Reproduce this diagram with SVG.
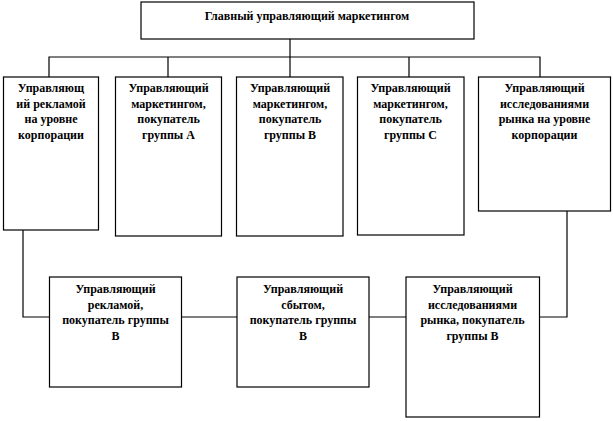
<svg xmlns="http://www.w3.org/2000/svg" width="613" height="421" viewBox="0 0 613 421">
<style>
.box{fill:#fff;stroke:#000;stroke-width:1.2}
.ln{fill:none;stroke:#000;stroke-width:1.2}
text{font-family:'Liberation Serif','DejaVu Serif','Times New Roman',serif;font-weight:700;font-size:12px;fill:#000;text-anchor:middle}
</style>
<rect width="613" height="421" fill="#fff"/>
<g id="connectors">
<path class="ln" d="M290,39 V57 M49,77 V57 H540 V77 M168,57 V77 M290,57 V77 M409,57 V77"/>
<path class="ln" d="M23,230 V317 H49.5 M181,317 H237 M369,317 H406 M539,317 H567 V211"/>
</g>
<g id="n0"><rect class="box" x="141" y="2" width="333" height="37"/>
<text x="307" y="20">Главный управляющий маркетингом</text></g>
<g id="n1"><rect class="box" x="3.5" y="77" width="95" height="153"/>
<text x="51" y="92">Управляющ</text><text x="51" y="108">ий рекламой</text><text x="51" y="123">на уровне</text><text x="51" y="139">корпорации</text></g>
<g id="n2"><rect class="box" x="115.5" y="77" width="106" height="159"/>
<text x="168.5" y="92">Управляющий</text><text x="168.5" y="108">маркетингом,</text><text x="168.5" y="123">покупатель</text><text x="168.5" y="139">группы А</text></g>
<g id="n3"><rect class="box" x="236.5" y="77" width="106.5" height="159"/>
<text x="290" y="92">Управляющий</text><text x="290" y="108">маркетингом,</text><text x="290" y="123">покупатель</text><text x="290" y="139">группы В</text></g>
<g id="n4"><rect class="box" x="357.5" y="77" width="106.5" height="158"/>
<text x="410.5" y="92">Управляющий</text><text x="410.5" y="108">маркетингом,</text><text x="410.5" y="123">покупатель</text><text x="410.5" y="139">группы С</text></g>
<g id="n5"><rect class="box" x="478.5" y="77" width="132" height="134"/>
<text x="544.5" y="92">Управляющий</text><text x="544.5" y="108">исследованиями</text><text x="544.5" y="123">рынка на уровне</text><text x="544.5" y="139">корпорации</text></g>
<g id="n6"><rect class="box" x="49.5" y="277" width="132" height="110"/>
<text x="115.5" y="293">Управляющий</text><text x="115.5" y="309">рекламой,</text><text x="115.5" y="324">покупатель группы</text><text x="115.5" y="340">В</text></g>
<g id="n7"><rect class="box" x="237" y="277" width="132" height="110"/>
<text x="303" y="293">Управляющий</text><text x="303" y="309">сбытом,</text><text x="303" y="324">покупатель группы</text><text x="303" y="340">В</text></g>
<g id="n8"><rect class="box" x="406" y="277" width="133.5" height="140"/>
<text x="472.5" y="293">Управляющий</text><text x="472.5" y="309">исследованиями</text><text x="472.5" y="324">рынка, покупатель</text><text x="472.5" y="340">группы В</text></g>
</svg>
